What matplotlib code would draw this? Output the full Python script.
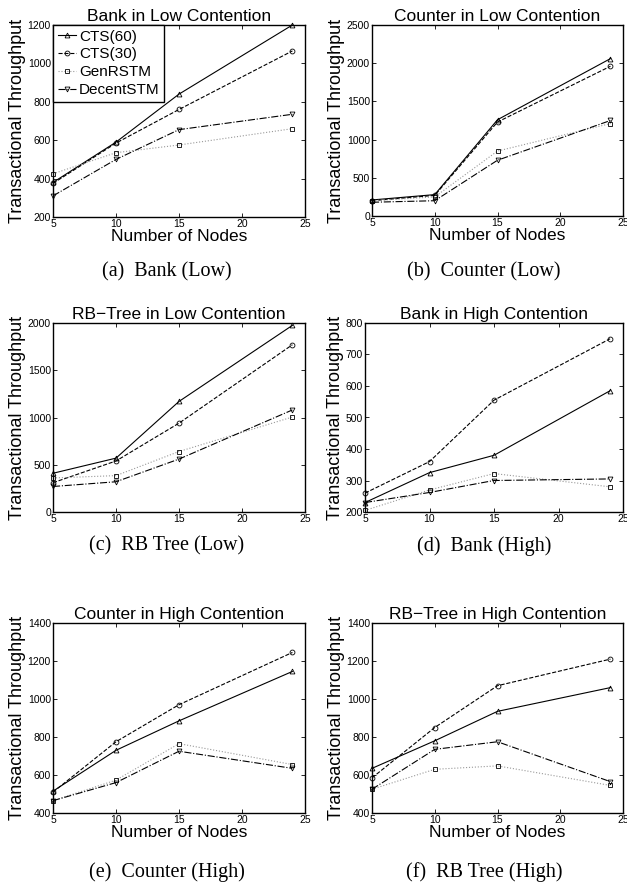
import matplotlib
matplotlib.use('Agg')
import matplotlib.pyplot as plt

plt.rcParams['font.family'] = ['Liberation Sans', 'DejaVu Sans']

nodes = [5, 10, 15, 24]
series_names = ['CTS(60)', 'CTS(30)', 'GenRSTM', 'DecentSTM']

bank_low_cts60 = [380, 590, 840, 1200]
bank_low_cts30 = [375, 585, 760, 1065]
bank_low_genrstm = [425, 535, 575, 660]
bank_low_decent = [310, 500, 655, 735]

counter_low_cts60 = [210, 280, 1260, 2060]
counter_low_cts30 = [200, 270, 1230, 1960]
counter_low_genrstm = [200, 250, 850, 1210]
counter_low_decent = [180, 200, 730, 1250]

rbtree_low_cts60 = [410, 570, 1170, 1975]
rbtree_low_cts30 = [310, 540, 940, 1770]
rbtree_low_genrstm = [360, 385, 640, 1005]
rbtree_low_decent = [270, 320, 560, 1080]

bank_high_cts60 = [230, 325, 380, 585]
bank_high_cts30 = [260, 360, 555, 750]
bank_high_genrstm = [205, 270, 322, 280]
bank_high_decent = [230, 262, 300, 305]

counter_high_cts60 = [515, 730, 885, 1145]
counter_high_cts30 = [510, 775, 970, 1245]
counter_high_genrstm = [465, 573, 765, 655]
counter_high_decent = [465, 560, 725, 635]

rbtree_high_cts60 = [635, 780, 935, 1060]
rbtree_high_cts30 = [585, 850, 1070, 1210]
rbtree_high_genrstm = [525, 630, 648, 545]
rbtree_high_decent = [525, 735, 775, 565]

titles = ['Bank in Low Contention', 'Counter in Low Contention',
          'RB\u2212Tree in Low Contention', 'Bank in High Contention',
          'Counter in High Contention', 'RB\u2212Tree in High Contention']
captions = ['(a)  Bank (Low)', '(b)  Counter (Low)', '(c)  RB Tree (Low)',
            '(d)  Bank (High)', '(e)  Counter (High)', '(f)  RB Tree (High)']
ylims = [(200, 1200, 200), (0, 2500, 500), (0, 2000, 500),
         (200, 800, 100), (400, 1400, 200), (400, 1400, 200)]
# middle row: the x label sits under the caption in the reference
show_xlabel = [True, True, False, False, True, True]

panels = [
    [bank_low_cts60, bank_low_cts30, bank_low_genrstm, bank_low_decent],
    [counter_low_cts60, counter_low_cts30, counter_low_genrstm, counter_low_decent],
    [rbtree_low_cts60, rbtree_low_cts30, rbtree_low_genrstm, rbtree_low_decent],
    [bank_high_cts60, bank_high_cts30, bank_high_genrstm, bank_high_decent],
    [counter_high_cts60, counter_high_cts30, counter_high_genrstm, counter_high_decent],
    [rbtree_high_cts60, rbtree_high_cts30, rbtree_high_genrstm, rbtree_high_decent],
]

styles = [
    dict(linestyle='-', marker='^', color='black'),
    dict(linestyle='--', marker='o', color='black'),
    dict(linestyle=':', marker='s', color='#999999'),
    dict(linestyle='-.', marker='v', color='black'),
]

W, H = 627, 888
# axes boxes in pixels: left, top, right, bottom
boxes = [(53, 25, 305, 217), (372, 25, 623, 216),
         (53, 323, 305, 512), (365, 323, 623, 512),
         (53, 623, 305, 813), (372, 623, 623, 813)]
caption_y = [272, 272, 546, 546, 872, 872]
caption_x = [167, 484]

fig = plt.figure(figsize=(W / 100, H / 100), dpi=100)

for i, (l, t, r, b) in enumerate(boxes):
    ax = fig.add_axes([l / W, 1 - b / H, (r - l) / W, (b - t) / H])
    for name, ys, st in zip(series_names, panels[i], styles):
        ax.plot(nodes, ys, label=name, linewidth=0.8, markersize=3.5,
                markerfacecolor='none', markeredgecolor='black',
                markeredgewidth=0.6, clip_on=False, **st)
    lo, hi, step = ylims[i]
    ax.set_xlim(5, 25)
    ax.set_ylim(lo, hi)
    ax.set_xticks([5, 10, 15, 20, 25])
    ax.set_yticks(range(lo, hi + 1, step))
    ax.tick_params(direction='in', top=True, right=True, length=3,
                   width=0.6, labelsize=7.5, pad=1.5)
    for sp in ax.spines.values():
        sp.set_linewidth(1.0)
    ax.set_title(titles[i], fontsize=12.5, pad=3)
    if show_xlabel[i]:
        ax.set_xlabel('Number of Nodes', fontsize=12.5, labelpad=0)
    ax.set_ylabel('Transactional Throughput', fontsize=13, labelpad=1)
    if i == 0:
        leg = ax.legend(loc='upper left', fontsize=11, borderaxespad=0,
                        fancybox=False, edgecolor='black', framealpha=1,
                        handlelength=1.2, handletextpad=0.2,
                        labelspacing=0.25, borderpad=0.3)
        leg.get_frame().set_linewidth(1.0)
    fig.text(caption_x[i % 2] / W, 1 - caption_y[i] / H, captions[i],
             ha='center', va='center', fontsize=14.5,
             family=['Liberation Serif', 'DejaVu Serif'])

fig.savefig('out.png', dpi=100)
